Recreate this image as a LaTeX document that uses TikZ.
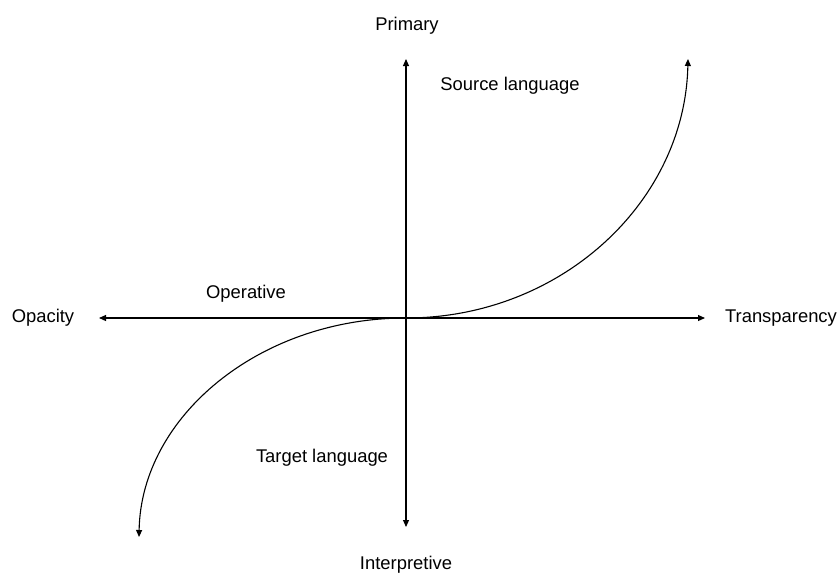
\documentclass[tikz,border=0pt]{standalone}
\usepackage{fontspec}
\setmainfont{Liberation Sans}
\usetikzlibrary{arrows.meta}
\begin{document}
\begin{tikzpicture}[x=1pt,y=-1pt,
  axis/.style={line width=1.1pt,-{Triangle[length=7pt,width=6pt]}},
  lbl/.style={anchor=base,inner sep=0pt,font=\fontsize{18.4}{22}\selectfont}]
\useasboundingbox (0,0) rectangle (839,574);
\coordinate (O) at (406,318);
\coordinate (L) at (99,318);
\coordinate (R) at (705,318);
\coordinate (T) at (406,59);
\coordinate (B) at (406,527);
\coordinate (CT) at (688,59);
\coordinate (CB) at (139,537);
\draw[axis] (O) -- (L);
\draw[axis] (O) -- (R);
\draw[axis] (O) -- (T);
\draw[axis] (O) -- (B);
\draw[axis] (O) .. controls (561,318) and (685,202) .. (CT);
\draw[axis] (O) .. controls (259,318) and (141,417) .. (CB);
\node[lbl] (primary) at (407,30) {Primary};
\node[lbl] (interp) at (406,569) {Interpretive};
\node[lbl] (opacity) at (43,322) {Opacity};
\node[lbl] (transp) at (781,322) {Transparency};
\node[lbl] (oper) at (246,298) {Operative};
\node[lbl] (src) at (510,90) {Source language};
\node[lbl] (tgt) at (322,462) {Target language};
\end{tikzpicture}
\end{document}
